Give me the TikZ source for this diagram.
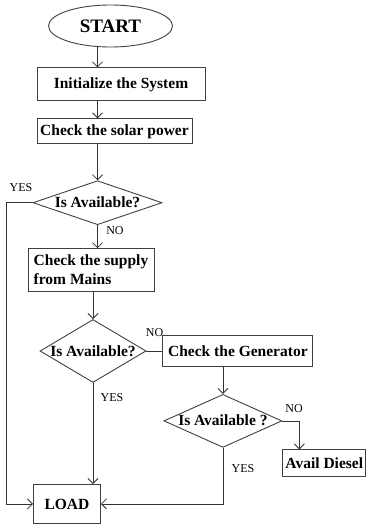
\documentclass[tikz,border=0pt]{standalone}
\usepackage{fontspec}
\setmainfont{Liberation Serif}
\usetikzlibrary{arrows.meta,positioning,shapes.geometric}

\begin{document}
\begin{tikzpicture}[x=1pt,y=1pt, every node/.style={font=\bfseries\fontsize{15.5}{19}\selectfont,align=center},
 box/.style={draw=black!75,line width=0.9pt,inner sep=0pt},
 dec/.style={draw=black!75,diamond,line width=0.9pt,inner sep=0pt,text height=10pt,text depth=0pt},
 lbl/.style={font=\fontsize{12}{12}\selectfont,inner sep=0pt},
 arr/.style={-{Straight Barb[length=5pt,width=10pt]},line width=0.8pt,black!80},
 line/.style={line width=0.8pt,black!80}]
\useasboundingbox (0,0) rectangle (365,-524);
\node[draw=black!75,ellipse,line width=0.9pt,minimum width=124pt,minimum height=42pt,inner sep=0pt,
 font=\bfseries\fontsize{19}{19}\selectfont] (start) at (110.5,-26) {START};
\node[box,minimum width=168pt,minimum height=33pt,below=20pt of start,xshift=10.5pt] (init) {Initialize the System};
\node[box,minimum width=155pt,minimum height=25pt,below=17pt of init.south west,anchor=north west] (solar) {Check the solar power};
\node[dec,aspect=2.93,minimum width=129pt,minimum height=44pt,below=36pt of solar,xshift=-17pt] (dia1) {Is Available?};
\node[box,align=left,minimum width=126pt,minimum height=43pt,inner xsep=5pt,below=23pt of dia1,xshift=-6.5pt] (mains) {Check the supply\\from Mains};
\node[dec,aspect=1.68,minimum width=106pt,minimum height=63pt,below=27pt of mains,xshift=2pt] (dia2) {Is Available?};
\node[box,minimum width=150pt,minimum height=31pt,right=16pt of dia2] (gen) {Check the Generator};
\node[dec,aspect=2.23,minimum width=118pt,minimum height=53pt,below=27pt of gen,xshift=-15pt] (dia3) {Is Available ?};
\node[box,minimum width=83pt,minimum height=27pt,below=28.5pt of dia3.east,anchor=north west] (diesel) {Avail Diesel};
\node[box,minimum width=67pt,minimum height=39pt,anchor=north west] (load) at (33,-484) {LOAD};
\coordinate (dtop) at ([xshift=17pt]diesel.north west);
\draw[arr] (dia1.north |- start.south) -- (dia1.north |- init.north);
\draw[arr] (init.south -| dia1.north) -- (solar.north -| dia1.north);
\draw[arr] (solar.south -| dia1.north) -- (dia1.north);
\draw[arr] (dia1.south) -- (dia1.south |- mains.north);
\draw[arr] (mains.south -| dia2.north) -- (dia2.north);
\draw[arr] (dia2.south) -- (dia2.south |- load.north);
\draw[arr] (dia1.west) -- ++(-26pt,0) |- (load.west);
\draw[line] (dia2.east) -- (dia2.east -| gen.west);
\draw[arr] (gen.south -| dia3.north) -- (dia3.north);
\draw[arr] (dia3.east) -| (dtop);
\draw[arr] (dia3.south) |- (load.east);
\node[lbl] (yes1) at (21,-187.5) {YES};
\node[lbl] (no1) at (115,-230.5) {NO};
\node[lbl] (no2) at (154.5,-332.5) {NO};
\node[lbl] (yes2) at (112,-397.5) {YES};
\node[lbl] (no3) at (294,-408.5) {NO};
\node[lbl] (yes3) at (243,-469) {YES};
\end{tikzpicture}
\end{document}
